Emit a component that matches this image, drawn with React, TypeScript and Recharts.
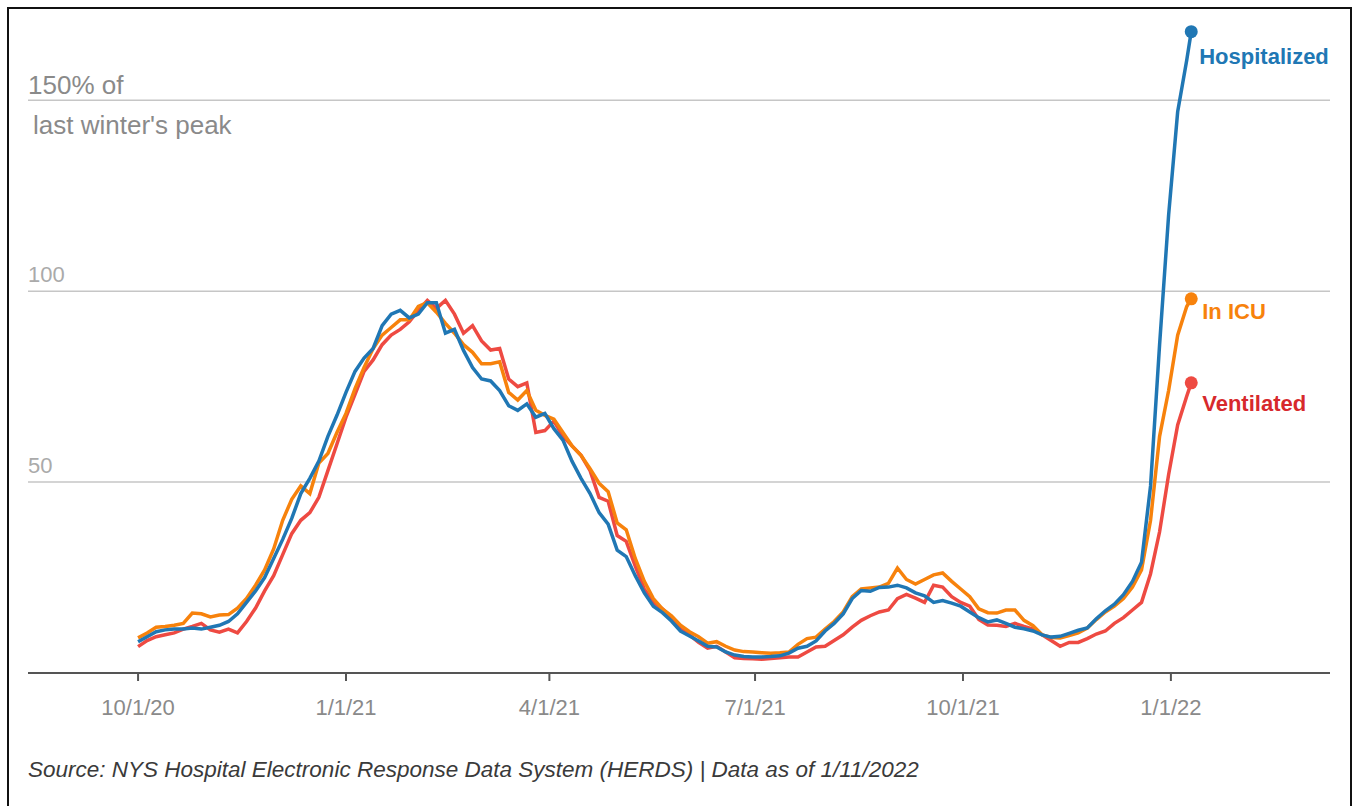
import React from "react";
import { LineChart, Line, XAxis, YAxis, CartesianGrid } from "recharts";

// sample dates (every 4 days, last point 1/10/22)
const dates = [
  "2020-10-01", "2020-10-05", "2020-10-09", "2020-10-13", "2020-10-17", "2020-10-21", "2020-10-25", "2020-10-29", "2020-11-02", "2020-11-06",
  "2020-11-10", "2020-11-14", "2020-11-18", "2020-11-22", "2020-11-26", "2020-11-30", "2020-12-04", "2020-12-08", "2020-12-12", "2020-12-16",
  "2020-12-20", "2020-12-24", "2020-12-28", "2021-01-01", "2021-01-05", "2021-01-09", "2021-01-13", "2021-01-17", "2021-01-21", "2021-01-25",
  "2021-01-29", "2021-02-02", "2021-02-06", "2021-02-10", "2021-02-14", "2021-02-18", "2021-02-22", "2021-02-26", "2021-03-02", "2021-03-06",
  "2021-03-10", "2021-03-14", "2021-03-18", "2021-03-22", "2021-03-26", "2021-03-30", "2021-04-03", "2021-04-07", "2021-04-11", "2021-04-15",
  "2021-04-19", "2021-04-23", "2021-04-27", "2021-05-01", "2021-05-05", "2021-05-09", "2021-05-13", "2021-05-17", "2021-05-21", "2021-05-25",
  "2021-05-29", "2021-06-02", "2021-06-06", "2021-06-10", "2021-06-14", "2021-06-18", "2021-06-22", "2021-06-26", "2021-06-30", "2021-07-04",
  "2021-07-08", "2021-07-12", "2021-07-16", "2021-07-20", "2021-07-24", "2021-07-28", "2021-08-01", "2021-08-05", "2021-08-09", "2021-08-13",
  "2021-08-17", "2021-08-21", "2021-08-25", "2021-08-29", "2021-09-02", "2021-09-06", "2021-09-10", "2021-09-14", "2021-09-18", "2021-09-22",
  "2021-09-26", "2021-09-30", "2021-10-04", "2021-10-08", "2021-10-12", "2021-10-16", "2021-10-20", "2021-10-24", "2021-10-28", "2021-11-01",
  "2021-11-05", "2021-11-09", "2021-11-13", "2021-11-17", "2021-11-21", "2021-11-25", "2021-11-29", "2021-12-03", "2021-12-07", "2021-12-11",
  "2021-12-15", "2021-12-19", "2021-12-23", "2021-12-27", "2021-12-31", "2022-01-04", "2022-01-08", "2022-01-10",
];

// % of last winter's peak
const hospitalized = [
  8.2, 9.5, 10.8, 11.3, 11.5, 11.5, 11.8, 11.5, 12, 12.5,
  13.5, 15.5, 18.5, 21.5, 25, 30, 35, 40.5, 47, 51,
  55.5, 62, 67.5, 73.5, 79, 82.5, 85, 91, 94, 95,
  93, 94, 97, 97, 89, 90, 84.5, 80, 77, 76.5,
  74, 70, 68.8, 70.5, 67, 68, 64, 61, 55.5, 51,
  47, 42, 39, 32.2, 30.5, 25.5, 21, 17.5, 15.8, 13.6,
  11, 9.7, 8.4, 7, 6.8, 5.5, 4.7, 4.3, 4.2, 4.2,
  4.3, 4.5, 5.2, 6.5, 7, 8.4, 11, 13, 15.5, 19.5,
  21.6, 21.4, 22.4, 22.5, 23, 22.3, 21, 20.2, 18.5, 19,
  18.3, 17.5, 16, 14.5, 13.4, 13.9, 13, 12, 11.6, 11,
  10, 9.4, 9.6, 10.4, 11.2, 11.8, 14.2, 16.3, 18, 20.5,
  24, 29, 49, 86, 120, 147, 160.5, 168,
];

const inICU = [
  9.2, 10.5, 12, 12.2, 12.5, 13, 15.7, 15.5, 14.7, 15.2,
  15.3, 17, 19.5, 23, 27, 32.5, 40, 45.5, 49, 47,
  55, 57.5, 63, 68, 74.5, 80, 85, 88.5, 90.5, 92.5,
  92.5, 96, 97, 94.5, 91.6, 89, 86, 84, 81, 81,
  81.5, 73.5, 71.5, 74, 68.8, 67.5, 66.5, 63, 59.5, 57,
  53.5, 49.7, 47.5, 39.3, 37.5, 30, 24, 19.5, 16.8, 15,
  12.5, 10.8, 9.5, 7.8, 8.2, 7, 6, 5.6, 5.5, 5.3,
  5.2, 5.3, 5.5, 7.5, 9, 9.4, 11.5, 13.5, 16, 20,
  22, 22.3, 22.5, 23.5, 27.5, 24.5, 23.3, 24.5, 25.7, 26.2,
  24, 22, 20, 16.8, 15.8, 15.7, 16.5, 16.5, 13.8, 12.4,
  10, 9.3, 9.2, 9.8, 10.5, 11.8, 14, 16, 17.5, 19.5,
  22.5, 27, 40, 62, 74, 88.5, 96, 98,
];

const ventilated = [
  6.9, 8.5, 9.5, 10, 10.5, 11.5, 12.2, 13, 11.3, 10.7,
  11.5, 10.5, 13.5, 17, 21.5, 25.5, 31, 36.5, 40, 42,
  46, 53, 60, 67, 73, 79, 82, 86, 88.5, 90,
  92, 95, 97.6, 95.5, 97.6, 94, 89, 91, 87, 84.6,
  85, 77, 75, 76, 63, 63.5, 66, 62, 59.5, 57,
  53, 46, 45, 36, 34.5, 28, 22, 18.5, 16.8, 14.5,
  11.5, 10, 8, 6.5, 7, 5.5, 4, 3.8, 3.7, 3.6,
  3.8, 4, 4.2, 4.2, 5.5, 6.8, 7, 8.5, 10, 12,
  13.8, 15, 16, 16.5, 19.5, 20.6, 19.6, 18.5, 23, 22.5,
  20, 18.5, 17.5, 14, 12.6, 12.5, 12.2, 13, 12.2, 11.5,
  10, 8.5, 7, 8, 8, 9, 10.2, 11, 13, 14.5,
  16.5, 18.5, 26, 37, 52, 65, 72.5, 76,
];

const tickDates = ["2020-10-01", "2021-01-01", "2021-04-01", "2021-07-01", "2021-10-01", "2022-01-01"];
const tickLabels = ["10/1/20", "1/1/21", "4/1/21", "7/1/21", "10/1/21", "1/1/22"];
const yTicks = [50, 100, 150];
const peakNote = ["150% of", "last winter's peak"];
const source = "Source: NYS Hospital Electronic Response Data System (HERDS) | Data as of 1/11/2022";

const DAY = 86400000;
const toTime = (d: string) => new Date(d + "T00:00:00Z").getTime();
const T0 = toTime(tickDates[0]);
const tickTimes = tickDates.map(toTime);

const data = dates.map((d, i) => ({
  t: toTime(d),
  hosp: hospitalized[i],
  icu: inICU[i],
  vent: ventilated[i],
}));

const series = [
  { key: "vent", name: "Ventilated", color: "#ee4a42", text: "#d7292c", dx: 11, dy: 28 },
  { key: "icu", name: "In ICU", color: "#f7820c", text: "#f7820c", dx: 11, dy: 20 },
  { key: "hosp", name: "Hospitalized", color: "#2077b4", text: "#2077b4", dx: 8, dy: 32 },
];

const FONT = "'Liberation Sans', Arial, sans-serif";
const PLOT_LEFT = 28;

function YTick(props: any) {
  const { y, payload } = props;
  if (payload.value === 150) {
    return (
      <g>
        <text x={PLOT_LEFT} y={y - 6} fill="#8a8a8a" fontSize={26}>{peakNote[0]}</text>
        <text x={PLOT_LEFT + 5} y={y + 34} fill="#8a8a8a" fontSize={26}>{peakNote[1]}</text>
      </g>
    );
  }
  return (
    <text x={PLOT_LEFT} y={y - 9} fill="#aaaaaa" fontSize={22}>{payload.value}</text>
  );
}

function makeEndDot(s: typeof series[number]) {
  return (props: any) => {
    const { cx, cy, index } = props;
    if (index !== dates.length - 1) return <g key={`${s.key}-${index}`} />;
    return (
      <g key={`${s.key}-end`}>
        <circle cx={cx} cy={cy} r={6.5} fill={s.color} />
        <text x={cx + s.dx} y={cy + s.dy} fill={s.text} fontSize={22} fontWeight="bold">{s.name}</text>
      </g>
    );
  };
}

export default function App() {
  return (
    <div style={{ position: "fixed", left: 0, top: 0, width: 1354, height: 806, overflow: "hidden", background: "#fff", fontFamily: FONT }}>
      <div style={{ position: "absolute", left: 7, top: 7, width: 1345, height: 840, border: "2px solid #111", boxSizing: "border-box" }} />
      <div style={{ position: "absolute", left: 0, top: 0 }}>
        <LineChart width={1354} height={806} data={data} margin={{ top: 24, right: 24, left: 0, bottom: 93 }}>
          <CartesianGrid vertical={false} horizontalValues={yTicks} stroke="#c6c6c6" strokeWidth={1.5} />
          <XAxis
            dataKey="t"
            type="number"
            domain={[T0 - 48.7 * DAY, T0 + 527.4 * DAY]}
            ticks={tickTimes}
            interval={0}
            tickFormatter={(v: number) => tickLabels[tickTimes.indexOf(v)]}
            axisLine={{ stroke: "#555", strokeWidth: 2 }}
            tickLine={{ stroke: "#555", strokeWidth: 2 }}
            tickSize={8}
            tickMargin={18}
            tick={{ fill: "#8a8a8a", fontSize: 22 }}
            height={40}
          />
          <YAxis
            type="number"
            domain={[0, 170]}
            ticks={yTicks}
            interval={0}
            width={28}
            axisLine={false}
            tickLine={false}
            tick={(p: any) => <YTick {...p} />}
          />
          {series.map((s) => (
            <Line
              key={s.key}
              dataKey={s.key}
              type="linear"
              stroke={s.color}
              strokeWidth={3.5}
              dot={makeEndDot(s)}
              activeDot={false}
              isAnimationActive={false}
            />
          ))}
        </LineChart>
      </div>
      <div style={{ position: "absolute", left: 28, top: 757, fontSize: 22.5, lineHeight: "26px", fontStyle: "italic", color: "#3a3a3a" }}>
        {source}
      </div>
    </div>
  );
}
